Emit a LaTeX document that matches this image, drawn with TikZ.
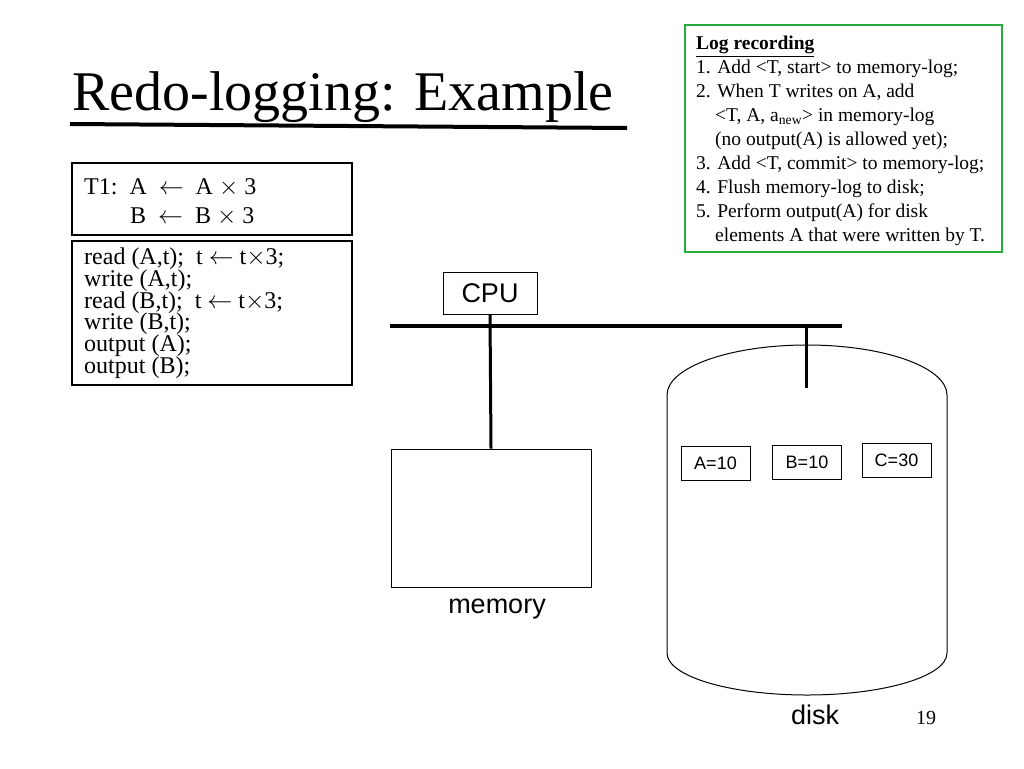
\documentclass[tikz,border=0pt]{standalone}
\usepackage{fontspec}
\setmainfont{Liberation Serif}
\newfontfamily\sansf{Liberation Sans}
\usepackage{amssymb}
\begin{document}
\begin{tikzpicture}[x=1pt,y=-1pt,
  box/.style={draw,line width=1.5pt},
  code/.style={anchor=base west,inner sep=0pt,font=\fontsize{24}{24}\selectfont},
  lg/.style={anchor=base west,inner sep=0pt,font=\fontsize{19.5}{19.5}\selectfont},
  sl/.style={inner sep=0pt,font=\sansf\fontsize{27}{27}\selectfont},
  val/.style={draw,line width=0.8pt,minimum width=69pt,minimum height=34pt,inner sep=0pt,font=\sansf\fontsize{18}{18}\selectfont}]
\useasboundingbox (0,0) rectangle (1024,768);
\node[anchor=base west,inner sep=0pt,font=\fontsize{56}{56}\selectfont] (title) at (72,110) {Redo-logging: Example};
\draw[line width=4pt] (70,124) -- (627,128);
\draw[box] (72,163) rectangle (352,235);
\node[code] (t1) at (84,194) {T1:\ \ A\ \ $\leftarrow$\ \ A $\times$ 3};
\node[code] (t2) at (130,223) {B\ \ $\leftarrow$\ \ B $\times$ 3};
\draw[box] (72,241) rectangle (352,385);
\foreach \t [count=\i] in {{read (A,t);\ \ t $\leftarrow$ t$\times$3;},{write (A,t);},{read (B,t);\ \ t $\leftarrow$ t$\times$3;},{write (B,t);},{output (A);},{output (B);}}
  \node[code] (c\i) at (84,{243+21.7*\i}) {\t};
\node[draw,line width=0.8pt,minimum width=94pt,minimum height=42pt,sl] (cpu) at (490,293) {CPU};
\draw[line width=4pt] (390,326) coordinate (bl) -- (842,326) coordinate (br);
\node[draw,line width=0.8pt,minimum width=200pt,minimum height=138pt] (mem) at (491,518) {};
\draw[line width=3pt] (cpu.south) -- (mem.north);
\node[sl] (memt) at (497,609) {memory};
\draw[line width=1pt] (667,395) arc[start angle=180,end angle=360,x radius=140,y radius=50] -- (947,653) arc[start angle=0,end angle=180,x radius=140,y radius=42] -- cycle;
\coordinate (dtop) at (806,326);
\coordinate (dend) at (806,388);
\draw[line width=3pt] (dtop) -- (dend);
\node[val] (a) at (715.5,463) {A=10};
\node[val] (b) at (807,462) {B=10};
\node[val] (c) at (896.5,460.5) {C=30};
\node[sl] (disk) at (815,715) {disk};
\node[inner sep=0pt,font=\fontsize{20}{20}\selectfont] (pg) at (926,718) {19};
\draw[draw={rgb,255:red,40;green,170;blue,60},line width=1.5pt] (685,25) rectangle (1002,252);
\node[lg,font=\bfseries\fontsize{19.5}{19.5}\selectfont] (l0) at (696,49) {\underline{Log recording}};
\node[lg] (l1) at (696,73) {1. Add <T, start> to memory-log;};
\node[lg] (l2) at (696,97) {2. When T writes on A, add};
\node[lg] (l3) at (715,121) {<T, A, a\textsubscript{new}> in memory-log};
\node[lg] (l4) at (715,145) {(no output(A) is allowed yet);};
\node[lg] (l5) at (696,169) {3. Add <T, commit> to memory-log;};
\node[lg] (l6) at (696,193) {4. Flush memory-log to disk;};
\node[lg] (l7) at (696,217) {5. Perform output(A) for disk};
\node[lg] (l8) at (715,241) {elements A that were written by T.};
\end{tikzpicture}
\end{document}
